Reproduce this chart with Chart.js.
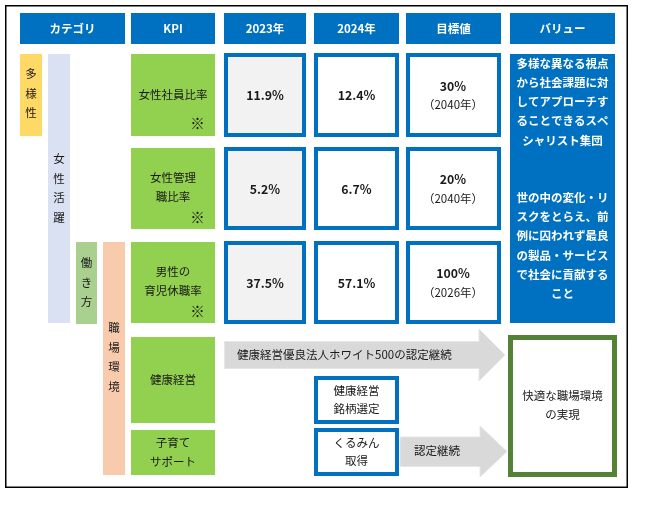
<!DOCTYPE html>
<html><head><meta charset="utf-8">
<script src="https://cdn.jsdelivr.net/npm/chart.js@4"></script>
<style>html,body{margin:0;padding:0;background:#fff;}#wrap{width:645px;height:506px;position:relative;}</style>
</head><body><div id="wrap"><canvas id="c"></canvas></div>
<script>
// ---- data ----
const headers = ['カテゴリ','KPI','2023年','2024年','目標値','バリュー'];
const categories = ['多様性','女性活躍','働き方','職場環境'];
const kpiLabels = [['女性社員比率'],['女性管理','職比率'],['男性の','育児休職率'],['健康経営'],['子育て','サポート']];
const kpiNoted = [true,true,true,false,false];
const values2023 = [11.9, 5.2, 37.5];
const values2024 = [12.4, 6.7, 57.1];
const targetValues = [30, 20, 100];
const targetYears = ['2040年','2040年','2026年'];
const valueText1 = ['多様な異なる視点','から社会課題に対','してアプローチす','ることできるスペ','シャリスト集団'];
const valueText2 = ['世の中の変化・リ','スクをとらえ、前','例に囚われず最良','の製品・サービス','で社会に貢献する','こと'];
const healthArrowLabel = '健康経営優良法人ホワイト500の認定継続';
const certBoxes = [['健康経営','銘柄選定'],['くるみん','取得']];
const kuruminArrowLabel = '認定継続';
const outcome = ['快適な職場環境','の実現'];

// ---- layout (grid units on the hidden linear scales) ----
const colX = [[20,125],[131,215],[224,306],[314,399],[406,501],[510,615]];
const headerY = [13,44];
const rowY = [[53,137],[147,230],[241,324],[337,423],[430,475]];
const catBars = [[20,42,54,136,'#ffd966'],[48,70,54,323,'#dae1f2'],[76,97,242,324,'#a9d08e'],[103,125,242,475,'#f8cbad']];
const FONT = '"Noto Sans CJK JP","Noto Sans",sans-serif';

const drawPlugin = {
  id:'infographic',
  afterDraw(chart){
    const ctx = chart.ctx, xs = chart.scales.x, ys = chart.scales.y;
    const X = v => xs.getPixelForValue(v), Y = v => ys.getPixelForValue(v);
    const rect = (x0,x1,y0,y1,fill) => { ctx.fillStyle = fill; ctx.fillRect(X(x0),Y(y0),X(x1)-X(x0),Y(y1)-Y(y0)); };
    const frame = (x0,x1,y0,y1,color,w,fill) => {
      if (fill) rect(x0,x1,y0,y1,fill);
      ctx.strokeStyle = color; ctx.lineWidth = w;
      ctx.strokeRect(X(x0)+w/2,Y(y0)+w/2,X(x1)-X(x0)-w,Y(y1)-Y(y0)-w);
    };
    const text = (s,x,y,opt={}) => {
      ctx.font = (opt.bold?'bold ':'') + (opt.size||11.5) + 'px ' + FONT;
      ctx.fillStyle = opt.color || '#1a1a1a';
      ctx.textAlign = opt.align || 'center'; ctx.textBaseline = 'middle';
      ctx.fillText(s, X(x), Y(y));
    };
    ctx.save();
    // outer frame
    ctx.strokeStyle = '#000'; ctx.lineWidth = 1.5;
    ctx.strokeRect(X(5)+0.75, Y(5)+0.75, X(628)-X(5)-1.5, Y(488)-Y(5)-1.5);
    // headers
    headers.forEach((h,i)=>{
      rect(colX[i][0],colX[i][1],headerY[0],headerY[1],'#0070c0');
      text(h,(colX[i][0]+colX[i][1])/2,28.5,{bold:true,color:'#fff',size:11.5});
    });
    // category vertical bars
    catBars.forEach((b,i)=>{
      rect(b[0],b[1],b[2],b[3],b[4]);
    });
    const vert = (s,cx,y0) => { [...s].forEach((ch,k)=>text(ch,cx,y0+k*19.4)); };
    vert(categories[0],31,74);
    vert(categories[1],59,159);
    vert(categories[2],86.5,263);
    vert(categories[3],114,328);
    // KPI cells
    kpiLabels.forEach((lines,r)=>{
      const [y0,y1] = r<3 ? [rowY[r][0]+1,rowY[r][1]-1] : rowY[r];
      rect(colX[1][0],colX[1][1],y0,y1,'#92d050');
      const cy = (y0+y1)/2;
      const n = lines.length;
      lines.forEach((l,k)=>{
        const yy = kpiNoted[r] ? rowY[r][0] + (n===1 ? 42 : 31) + k*19 : cy - (n-1)*9.5 + k*19;
        text(l,173,yy);
      });
      if (kpiNoted[r]) text('※',197.5,rowY[r][0]+70.5,{size:14.5});
    });
    // value cells
    const pct = v => v.toFixed(1)+'%';
    for (let r=0;r<3;r++){
      const cy = (rowY[r][0]+rowY[r][1])/2;
      frame(colX[2][0],colX[2][1],rowY[r][0],rowY[r][1],'#0070c0',4,'#f2f2f2');
      frame(colX[3][0],colX[3][1],rowY[r][0],rowY[r][1],'#0070c0',4,'#fff');
      frame(colX[4][0],colX[4][1],rowY[r][0],rowY[r][1],'#0070c0',4,'#fff');
      text(pct(values2023[r]),265,cy+0.5,{bold:true,size:12.3});
      text(pct(values2024[r]),356.5,cy+0.5,{bold:true,size:12.3});
      text(targetValues[r]+'%',453,cy-9,{bold:true,size:12.3});
      text('（'+targetYears[r]+'）',453,cy+10);
    }
    // value column
    rect(colX[5][0],colX[5][1],54,323,'#0070c0');
    valueText1.forEach((l,k)=>text(l,562.5,63.5+k*19.2,{bold:true,color:'#fff'}));
    valueText2.forEach((l,k)=>text(l,562.5,197.5+k*19.3,{bold:true,color:'#fff'}));
    // arrows
    const arrow = (x0,xb,xt,by0,by1,hy0,hy1) => {
      ctx.beginPath();
      ctx.moveTo(X(x0),Y(by0)); ctx.lineTo(X(xb),Y(by0)); ctx.lineTo(X(xb),Y(hy0));
      ctx.lineTo(X(xt),Y((hy0+hy1)/2)); ctx.lineTo(X(xb),Y(hy1)); ctx.lineTo(X(xb),Y(by1));
      ctx.lineTo(X(x0),Y(by1)); ctx.closePath();
      ctx.fillStyle = '#d9d9d9'; ctx.fill();
      ctx.strokeStyle = '#e6e6e6'; ctx.lineWidth = 1; ctx.stroke();
    };
    arrow(224.5,479,505,341.5,368.5,329,381);
    text(healthArrowLabel,237,354.5,{align:'left'});
    arrow(400,480,507,437,466.5,426,477);
    text(kuruminArrowLabel,437,451);
    // certification boxes
    frame(314,399,376,424,'#0070c0',4,'#fff');
    frame(314,399,428,476,'#0070c0',4,'#fff');
    certBoxes[0].forEach((l,k)=>text(l,356.5,390.5+k*18.5));
    certBoxes[1].forEach((l,k)=>text(l,356.5,442.5+k*18.5));
    // outcome box
    frame(508,617,335,477,'#548235',5,'#fff');
    outcome.forEach((l,k)=>text(l,562.5,395.5+k*19));
    ctx.restore();
  }
};

new Chart(document.getElementById('c'),{
  type:'scatter',
  data:{datasets:[{data:[]}]},
  options:{
    responsive:true, maintainAspectRatio:false, animation:false,
    layout:{padding:0},
    plugins:{legend:{display:false},tooltip:{enabled:false}},
    scales:{
      x:{type:'linear',min:0,max:645,display:false},
      y:{type:'linear',min:0,max:506,reverse:true,display:false}
    }
  },
  plugins:[drawPlugin]
});
</script></body></html>
